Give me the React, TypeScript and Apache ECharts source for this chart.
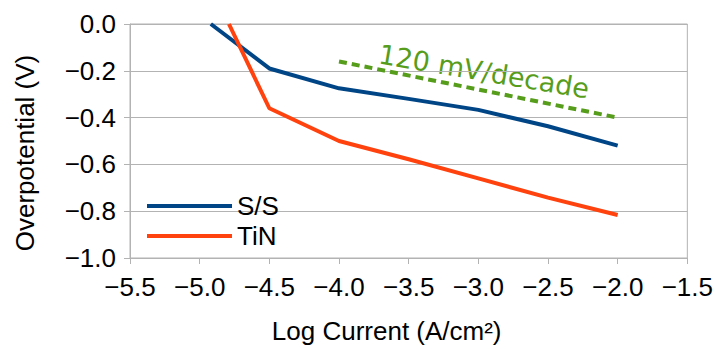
import React, { useEffect, useRef } from "react";
import * as echarts from "echarts";

const ssX = [-4.92, -4.5, -4.0, -3.5, -3.0, -2.5, -2.0];
const ssY = [0, -0.19, -0.275, -0.32, -0.367, -0.437, -0.52];
const tinX = [-4.79, -4.5, -4.0, -3.5, -3.0, -2.5, -2.0];
const tinY = [0, -0.36, -0.5, -0.578, -0.66, -0.742, -0.816];
const slopeX = [-4.0, -2.0];
const slopeY = [-0.16, -0.4];
const seriesNames = ["S/S", "TiN"];
const slopeLabel = "120 mV/decade";
const xTitle = "Log Current (A/cm²)";
const yTitle = "Overpotential (V)";

const fmt = (v: number) => {
  const r = Math.round(v * 10) / 10;
  if (Math.abs(r) < 1e-9) return "0.0";
  return (r < 0 ? "\u2212" : "") + Math.abs(r).toFixed(1);
};

const pairs = (xs: number[], ys: number[]) => xs.map((x, i) => [x, ys[i]]);

export default function App() {
  const ref = useRef<HTMLDivElement>(null);
  useEffect(() => {
    if (!ref.current) return;
    const chart = echarts.init(ref.current, undefined, { renderer: "svg" });
    const font = "'Liberation Sans', Arial, sans-serif";
    const gray = "#b3b3b3";
    chart.setOption({
      animation: false,
      backgroundColor: "#ffffff",
      grid: {
        left: 130,
        right: 26,
        top: 24,
        bottom: 89,
        show: true,
        borderColor: gray,
        borderWidth: 1,
        backgroundColor: "transparent",
      },
      legend: {
        data: seriesNames,
        orient: "vertical",
        left: 142,
        top: 188,
        icon: "rect",
        itemWidth: 85,
        itemHeight: 4,
        itemGap: 4,
        textStyle: { fontFamily: font, fontSize: 26, color: "#000" },
      },
      xAxis: {
        type: "value",
        min: -5.5,
        max: -1.5,
        interval: 0.5,
        name: xTitle,
        nameLocation: "middle",
        nameGap: 60,
        nameTextStyle: { fontFamily: font, fontSize: 26, color: "#000", padding: [0, 44, 0, 0] },
        axisLine: { onZero: false, lineStyle: { color: gray, width: 1 } },
        axisTick: { show: true, length: 6, lineStyle: { color: gray } },
        axisLabel: { formatter: fmt, fontFamily: font, fontSize: 26, color: "#000", margin: 16 },
        splitLine: { show: false },
      },
      yAxis: {
        type: "value",
        min: -1,
        max: 0,
        interval: 0.2,
        name: yTitle,
        nameLocation: "middle",
        nameGap: 92,
        nameTextStyle: { fontFamily: font, fontSize: 26, color: "#000", padding: [0, 24, 0, 0] },
        axisLine: { show: true, onZero: false, lineStyle: { color: gray, width: 1 } },
        axisTick: { show: true, length: 6, lineStyle: { color: gray } },
        axisLabel: { formatter: fmt, fontFamily: font, fontSize: 26, color: "#000", margin: 14 },
        splitLine: { show: true, lineStyle: { color: gray, width: 1 } },
      },
      series: [
        {
          name: seriesNames[0],
          type: "line",
          data: pairs(ssX, ssY),
          symbol: "none",
          lineStyle: { color: "#004586", width: 4 },
          itemStyle: { color: "#004586" },
        },
        {
          name: seriesNames[1],
          type: "line",
          data: pairs(tinX, tinY),
          symbol: "none",
          lineStyle: { color: "#ff420e", width: 4 },
          itemStyle: { color: "#ff420e" },
        },
        {
          name: slopeLabel,
          type: "line",
          data: pairs(slopeX, slopeY),
          symbol: "none",
          lineStyle: { color: "#579d1c", width: 4, type: [8, 5] },
          itemStyle: { color: "#579d1c" },
        },
      ],
      graphic: [
        {
          type: "text",
          x: 379,
          y: 54,
          rotation: (-9.5 * Math.PI) / 180,
          style: {
            text: slopeLabel,
            fontFamily: "'DejaVu Sans', sans-serif",
            fontSize: 27,
            fill: "#579d1c",
            align: "left",
            verticalAlign: "middle",
          },
        },
      ],
    });
    return () => chart.dispose();
  }, []);
  return <div ref={ref} style={{ width: 716, height: 349, position: "absolute", left: 0, top: 0 }} />;
}
